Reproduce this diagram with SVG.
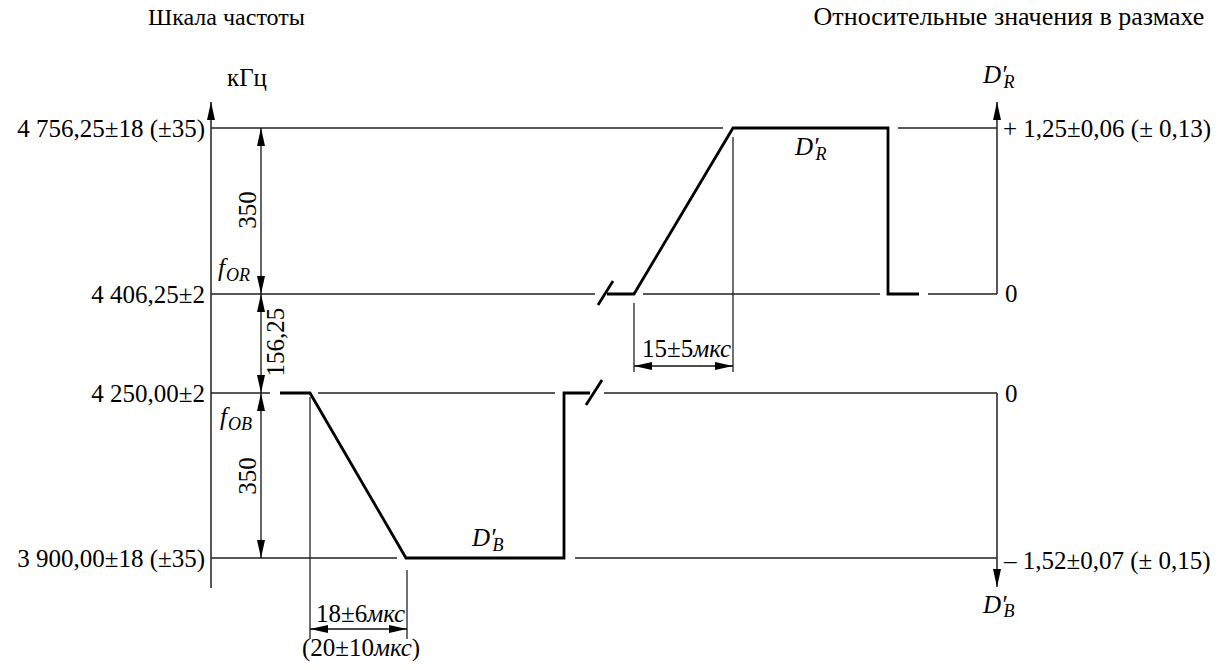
<svg xmlns="http://www.w3.org/2000/svg" width="1224" height="670" viewBox="0 0 1224 670">
<style>
text{font-family:"Liberation Serif","DejaVu Serif",Times,serif;font-size:25px;fill:#000}
.it{font-style:italic}
.sub{font-size:18px;font-style:italic}
.thin{stroke:#222;stroke-width:1.3;fill:none}
.thick{stroke:#000;stroke-width:2.8;fill:none;stroke-linejoin:miter}
.dim{stroke:#111;stroke-width:1.3;fill:none;marker-start:url(#arr);marker-end:url(#arr)}
.axis{stroke:#111;stroke-width:1.4;fill:none;marker-end:url(#arr)}
</style>
<defs>
<marker id="arr" markerUnits="userSpaceOnUse" markerWidth="18" markerHeight="8" refX="18" refY="4" orient="auto-start-reverse">
<path d="M0,0 L18,4 L0,8 z" fill="#000"/>
</marker>
</defs>
<rect width="1224" height="670" fill="#fff"/>

<g id="titles">
<text x="148" y="25" style="font-size:24px">Шкала частоты</text>
<text x="1009" y="25" text-anchor="middle" style="font-size:26px">Относительные значения в размахе</text>
</g>

<g id="left-axis">
<line class="axis" x1="211" y1="588" x2="211" y2="102"/>
<text x="227" y="86">кГц</text>
<text x="205" y="137" text-anchor="end">4 756,25±18 (±35)</text>
<text x="205" y="303" text-anchor="end">4 406,25±2</text>
<text x="205" y="402" text-anchor="end">4 250,00±2</text>
<text x="205" y="567" text-anchor="end">3 900,00±18 (±35)</text>
<text class="it" x="218" y="276">f<tspan class="sub" dx="1" dy="5">OR</tspan></text>
<text class="it" x="220" y="425">f<tspan class="sub" dx="1" dy="5">OB</tspan></text>
</g>

<g id="right-axis">
<line class="axis" x1="997" y1="294" x2="997" y2="102"/>
<line class="axis" x1="997" y1="393" x2="997" y2="587"/>
<text class="it" x="983" y="83">D′<tspan class="sub" dx="-3" dy="5">R</tspan></text>
<text class="it" x="983" y="613">D′<tspan class="sub" dx="-3" dy="4">B</tspan></text>
<text x="1003" y="137">+ 1,25±0,06 (± 0,13)</text>
<text x="1005" y="302">0</text>
<text x="1005" y="402">0</text>
<text x="1004" y="569">– 1,52±0,07 (± 0,15)</text>
</g>

<g id="level-lines">
<path class="thin" d="M211,128 H723 M898,128 H997"/>
<path class="thin" d="M211,294 H595 M643,294 H880 M928,294 H997"/>
<path class="thin" d="M211,393 H270 M318,393 H555 M604,393 H997"/>
<path class="thin" d="M211,558 H397 M575,558 H997"/>
</g>

<g id="pulse-R">
<path class="thick" d="M607,294 L634,294 L733,128 L888,128 L888,294 L919,294"/>
<path class="thick" d="M598,305 L613,281"/>
<text class="it" x="795" y="155">D′<tspan class="sub" dx="-3" dy="5">R</tspan></text>
</g>

<g id="pulse-B">
<path class="thick" d="M280,393 L310,393 L406,558 L564,558 L564,393 L590,393"/>
<path class="thick" d="M586,405 L602,380"/>
<text class="it" x="472" y="546">D′<tspan class="sub" dx="-3" dy="5">B</tspan></text>
</g>

<g id="connectors">
<line class="dim" x1="261" y1="128" x2="261" y2="294"/>
<line class="dim" x1="261" y1="294" x2="261" y2="393"/>
<line class="dim" x1="261" y1="393" x2="261" y2="558"/>
<line class="thin" x1="733" y1="137" x2="733" y2="372"/>
<line class="thin" x1="634" y1="303" x2="634" y2="372"/>
<line class="dim" x1="634" y1="366" x2="733" y2="366"/>
<line class="thin" x1="310" y1="397" x2="310" y2="639"/>
<line class="thin" x1="407" y1="570" x2="407" y2="639"/>
<line class="dim" x1="310" y1="629" x2="407" y2="629"/>
</g>

<g id="dimension-labels">
<text transform="translate(256,210) rotate(-90)" text-anchor="middle">350</text>
<text transform="translate(256,476) rotate(-90)" text-anchor="middle">350</text>
<text transform="translate(284,342) rotate(-90)" text-anchor="middle">156,25</text>
<text x="642" y="357">15±5<tspan class="it">мкс</tspan></text>
<text x="316" y="622">18±6<tspan class="it">мкс</tspan></text>
<text x="302" y="656">(20±10<tspan class="it">мкс</tspan>)</text>
</g>
</svg>
